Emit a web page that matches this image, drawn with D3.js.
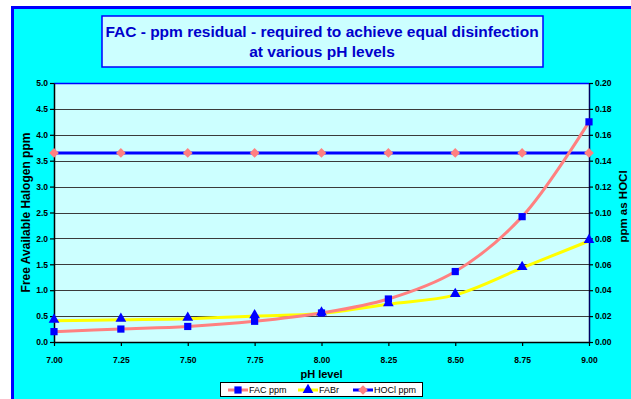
<!DOCTYPE html>
<html><head><meta charset="utf-8">
<script src="https://cdn.jsdelivr.net/npm/d3@7"></script>
<style>body{margin:0;background:#fff;} svg{display:block;font-family:"Liberation Sans",Arial,sans-serif;}</style>
</head><body>
<svg id="c" width="631" height="399"></svg>
<script>
const phLevels = [7.00, 7.25, 7.50, 7.75, 8.00, 8.25, 8.50, 8.75, 9.00];
const facPpm   = [0.20, 0.25, 0.30, 0.40, 0.56, 0.83, 1.36, 2.42, 4.25];
const fabr     = [0.41, 0.43, 0.45, 0.50, 0.55, 0.73, 0.91, 1.43, 1.95];
const hoclPpm  = [0.146, 0.146, 0.146, 0.146, 0.146, 0.146, 0.146, 0.146, 0.146];
const leftTicks = [0,0.5,1,1.5,2,2.5,3,3.5,4,4.5,5];
const rightTicks = [0,0.02,0.04,0.06,0.08,0.10,0.12,0.14,0.16,0.18,0.20];
const titleLines = ["FAC - ppm residual - required to achieve equal disinfection","at various pH levels"];

const svg = d3.select("#c");
// outer frame
svg.append("rect").attr("x",12.5).attr("y",7.5).attr("width",640).attr("height",420)
  .attr("fill","#00FFFF").attr("stroke","#0000FF").attr("stroke-width",3);

const L=54, R=589, T=83, B=342;
const x = d3.scaleLinear().domain([7,9]).range([L,R]);
const yL = d3.scaleLinear().domain([0,5]).range([B,T]);
const yR = d3.scaleLinear().domain([0,0.2]).range([B,T]);

svg.append("rect").attr("x",L).attr("y",T).attr("width",R-L).attr("height",B-T).attr("fill","#CCFFFF");
// gridlines
svg.append("g").selectAll("line").data(leftTicks.filter(d=>d>0 && d<5)).join("line")
  .attr("x1",L).attr("x2",R).attr("y1",d=>Math.round(yL(d))+0.5).attr("y2",d=>Math.round(yL(d))+0.5)
  .attr("stroke","#3a3a3a").attr("stroke-width",1.2);
svg.append("line").attr("x1",L).attr("x2",R).attr("y1",T+0.5).attr("y2",T+0.5).attr("stroke","#0000FF").attr("stroke-width",1.5);

// axes
const fmt1 = d3.format(".1f"), fmt2 = d3.format(".2f");
const ax = svg.append("g").attr("transform",`translate(0,${B})`)
  .call(d3.axisBottom(x).tickValues(phLevels).tickFormat(fmt2).tickSize(4).tickSizeOuter(0));
const ayl = svg.append("g").attr("transform",`translate(${L},0)`)
  .call(d3.axisLeft(yL).tickValues(leftTicks).tickFormat(fmt1).tickSize(4).tickSizeOuter(0));
const ayr = svg.append("g").attr("transform",`translate(${R},0)`)
  .call(d3.axisRight(yR).tickValues(rightTicks).tickFormat(fmt2).tickSize(4).tickSizeOuter(0));
[ax,ayl,ayr].forEach(g=>{
  g.selectAll("text").attr("font-family","'Liberation Sans',Arial,sans-serif").attr("font-size",8.5).attr("font-weight","bold").attr("fill","#000");
  g.selectAll("line").attr("stroke","#000").attr("stroke-width",1.2);
  g.select(".domain").attr("stroke","#000").attr("stroke-width",1.5);
});
ayr.select(".domain").attr("stroke","#000060");
ax.selectAll("text").attr("dy","1.6em");
ayl.selectAll("text").attr("x",-6);
ayr.selectAll("text").attr("x",6);

// axis titles
svg.append("text").attr("x",(L+R)/2).attr("y",378).attr("text-anchor","middle")
  .attr("font-size",11).attr("font-weight","bold").text("pH level");
svg.append("text").attr("transform",`translate(30,${(T+B)/2}) rotate(-90)`).attr("text-anchor","middle")
  .attr("font-size",12).attr("font-weight","bold").text("Free Available Halogen ppm");
svg.append("text").attr("transform",`translate(627,${(T+B)/2-6}) rotate(-90)`).attr("text-anchor","middle")
  .attr("font-size",11.5).attr("font-weight","bold").text("ppm as HOCl");

// title
svg.append("rect").attr("x",102).attr("y",16).attr("width",441).attr("height",51)
  .attr("fill","#CCFFFF").attr("stroke","#0000FF").attr("stroke-width",1.5);
svg.append("text").attr("x",322).attr("y",37).attr("text-anchor","middle").attr("font-size",15.5)
  .attr("font-weight","bold").attr("fill","#0000CC").text(titleLines[0]);
svg.append("text").attr("x",322).attr("y",57).attr("text-anchor","middle").attr("font-size",15.5)
  .attr("font-weight","bold").attr("fill","#0000CC").text(titleLines[1]);

// series
const line = (ys, yscale) => d3.line().x((d,i)=>x(phLevels[i])).y(d=>yscale(d)).curve(d3.curveCatmullRom.alpha(0.5))(ys);
svg.append("path").attr("d",line(hoclPpm,yR)).attr("fill","none").attr("stroke","#0000FF").attr("stroke-width",3);
svg.append("path").attr("d",line(fabr,yL)).attr("fill","none").attr("stroke","#FFFF00").attr("stroke-width",3);
svg.append("path").attr("d",line(facPpm,yL)).attr("fill","none").attr("stroke","#FF8080").attr("stroke-width",3);

const diamond = d3.symbol().type(d3.symbolDiamond2).size(60);
const square = d3.symbol().type(d3.symbolSquare).size(52);
const tri = d3.symbol().type(d3.symbolTriangle).size(50);
svg.append("g").selectAll("path").data(hoclPpm).join("path")
  .attr("transform",(d,i)=>`translate(${x(phLevels[i])},${yR(d)})`).attr("d",diamond).attr("fill","#FF8080");
svg.append("g").selectAll("path").data(fabr).join("path")
  .attr("transform",(d,i)=>`translate(${x(phLevels[i])},${yL(d)-1})`).attr("d",tri).attr("fill","#0000FF");
svg.append("g").selectAll("path").data(facPpm).join("path")
  .attr("transform",(d,i)=>`translate(${x(phLevels[i])},${yL(d)})`).attr("d",square).attr("fill","#0000FF");

// legend
const lg = svg.append("g");
lg.append("rect").attr("x",220.5).attr("y",382.5).attr("width",202).attr("height",14).attr("fill","#fff").attr("stroke","#000");
const items = [
  {name:"FAC ppm", line:"#FF8080", mk:square, mc:"#0000FF", x:228},
  {name:"FABr", line:"#FFFF00", mk:tri, mc:"#0000FF", x:298},
  {name:"HOCl ppm", line:"#0000FF", mk:diamond, mc:"#FF8080", x:353}
];
items.forEach(it=>{
  lg.append("line").attr("x1",it.x).attr("x2",it.x+20).attr("y1",390).attr("y2",390).attr("stroke",it.line).attr("stroke-width",3);
  lg.append("path").attr("transform",`translate(${it.x+10},390)`).attr("d",it.mk).attr("fill",it.mc);
  lg.append("text").attr("x",it.x+21).attr("y",393).attr("font-size",9).text(it.name);
});
</script>
</body></html>
